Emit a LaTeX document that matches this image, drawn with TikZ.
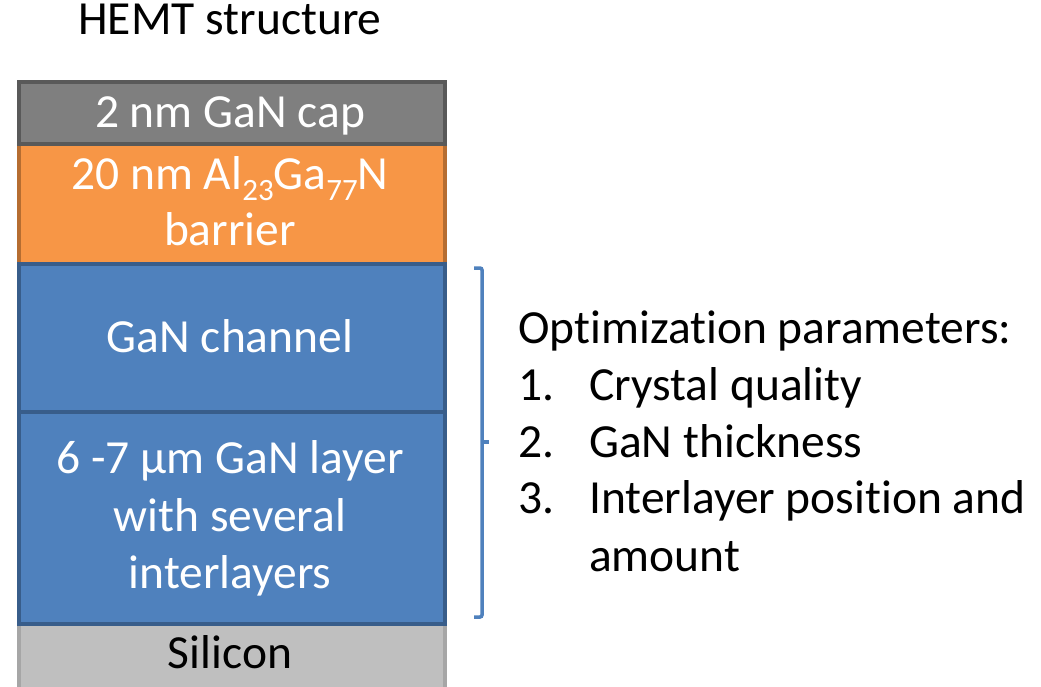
\documentclass[tikz,border=0pt]{standalone}
\usepackage{fontspec}
\setmainfont{Carlito}[Ligatures=NoCommon]
\definecolor{capfill}{HTML}{7F7F7F}
\definecolor{capline}{HTML}{595959}
\definecolor{barfill}{HTML}{F79646}
\definecolor{barline}{HTML}{B66D31}
\definecolor{gfill}{HTML}{4F81BD}
\definecolor{gline}{HTML}{385D8A}
\definecolor{sifill}{HTML}{BFBFBF}
\definecolor{siline}{HTML}{A6A6A6}
\newcommand{\bigtext}{\fontsize{47.5}{57}\selectfont}
\newcommand{\sbs}[1]{\raisebox{-0.24em}{\fontsize{31}{31}\selectfont #1}}
\tikzset{
  layer/.style={rectangle, line width=4pt, minimum width=426pt, inner sep=0pt,
    anchor=north west},
  label/.style={anchor=base, font=\bigtext, text=white, inner sep=0pt},
  caption/.style={anchor=base west, font=\bigtext, text=black, inner sep=0pt},
}
\begin{document}
\begin{tikzpicture}[x=1pt,y=-1pt]
  \useasboundingbox (0,0) rectangle (1041,686);

  % title
  \node[anchor=base, font=\bigtext, inner sep=0pt] (title) at (230,34) {HEMT structure};

  % layer stack (drawing order sets which border lies on top)
  \node[layer, fill=sifill, draw=siline, minimum height=80pt] (si) at (17,622) {};
  \node[layer, fill=barfill, draw=barline, minimum height=120pt] (bar) at (17,142) {};
  \node[layer, fill=capfill, draw=capline, minimum height=62pt] (cap) at (17,80) {};
  \node[layer, fill=gfill, draw=gline, minimum height=148pt] (chan) at (17,262) {};
  \node[layer, fill=gfill, draw=gline, minimum height=212pt] (buf) at (17,410) {};

  % layer labels
  \node[label] (capA) at (230,127) {2 nm GaN cap};
  \node[label] (barA) at (230,189) {20 nm Al\sbs{23}Ga\sbs{77}N};
  \node[label] (barB) at (230,245) {barrier};
  \node[label] (chanA) at (230,352) {GaN channel};
  \node[label] (bufA) at (230,473) {6 -7 µm GaN layer};
  \node[label] (bufB) at (230,531) {with several};
  \node[label] (bufC) at (230,588) {interlayers};
  \node[label, text=black] (siA) at (230,668) {Silicon};

  % bracket
  \coordinate (bt) at (474,268);
  \coordinate (bb) at (474,617);
  \coordinate (bm) at (482,442);
  \draw[gfill, line width=3.5pt, rounded corners=2pt]
    (bt) -- ++(8,0) -- ++(0,349) -- (bb);
  \draw[gfill, line width=3.5pt] (bm) -- ++(7,0);

  % optimization parameters
  \node[caption] (ophead) at (518,343) {Optimization parameters:};
  \node[caption] (n1) at (518,400) {1.};
  \node[caption] (t1) at (589,400) {Crystal quality};
  \node[caption] (n2) at (518,457) {2.};
  \node[caption] (t2) at (589,457) {GaN thickness};
  \node[caption] (n3) at (518,513) {3.};
  \node[caption] (t3) at (589,513) {Interlayer position and};
  \node[caption] (t3b) at (589,571) {amount};
\end{tikzpicture}
\end{document}
